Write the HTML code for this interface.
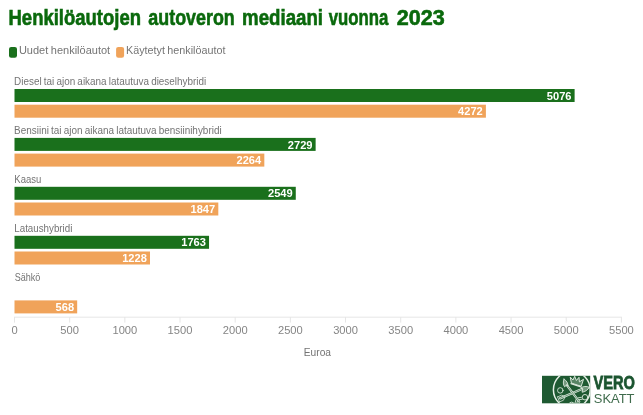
<!DOCTYPE html>
<html lang="fi"><head><meta charset="utf-8"><title>Henkilöautojen autoveron mediaani vuonna 2023</title>
<style>
html,body{margin:0;padding:0;background:#fff;}
body{width:643px;height:415px;overflow:hidden;font-family:"Liberation Sans",sans-serif;}
svg{display:block;}
.t{font-family:"Liberation Sans",sans-serif;}
</style></head><body>
<svg width="643" height="415" viewBox="0 0 643 415">
<rect width="643" height="415" fill="#fff"/>
<text class="t" transform="translate(8.49 25.0) scale(0.841 1)" font-size="22" font-weight="bold" fill="#0a690c" stroke="#0a690c" stroke-width="0.6">Henkilöautojen</text>
<text class="t" transform="translate(148.34 25.0) scale(0.813 1)" font-size="22" font-weight="bold" fill="#0a690c" stroke="#0a690c" stroke-width="0.6">autoveron</text>
<text class="t" transform="translate(242.08 25.0) scale(0.849 1)" font-size="22" font-weight="bold" fill="#0a690c" stroke="#0a690c" stroke-width="0.6">mediaani</text>
<text class="t" transform="translate(328.75 25.0) scale(0.762 1)" font-size="22" font-weight="bold" fill="#0a690c" stroke="#0a690c" stroke-width="0.6">vuonna</text>
<text class="t" transform="translate(396.82 25.0) scale(0.979 1)" font-size="22" font-weight="bold" fill="#0a690c" stroke="#0a690c" stroke-width="0.6">2023</text>
<rect x="9" y="46.9" width="8" height="10.8" rx="2.2" fill="#1a701c"/>
<text class="t" transform="translate(18.92 53.5) scale(1.002 1)" font-size="11.0" word-spacing="-0.6" fill="#747474">Uudet henkilöautot</text>
<rect x="116.1" y="46.9" width="8" height="10.8" rx="2.2" fill="#f0a35a"/>
<text class="t" transform="translate(126.04 53.5) scale(0.98 1)" font-size="11.0" word-spacing="-0.6" fill="#747474">Käytetyt henkilöautot</text>
<line x1="14.0" y1="317.2" x2="621.9" y2="317.2" stroke="#e6e6e6" stroke-width="1"/>
<line x1="14.50" y1="317" x2="14.50" y2="322.6" stroke="#e6e6e6" stroke-width="1"/>
<text class="t" transform="translate(14.50 333.6) scale(0.955 1)" font-size="11.7" fill="#858585" text-anchor="middle">0</text>
<line x1="69.67" y1="317" x2="69.67" y2="322.6" stroke="#e6e6e6" stroke-width="1"/>
<text class="t" transform="translate(69.67 333.6) scale(0.955 1)" font-size="11.7" fill="#858585" text-anchor="middle">500</text>
<line x1="124.85" y1="317" x2="124.85" y2="322.6" stroke="#e6e6e6" stroke-width="1"/>
<text class="t" transform="translate(124.85 333.6) scale(0.955 1)" font-size="11.7" fill="#858585" text-anchor="middle">1000</text>
<line x1="180.02" y1="317" x2="180.02" y2="322.6" stroke="#e6e6e6" stroke-width="1"/>
<text class="t" transform="translate(180.02 333.6) scale(0.955 1)" font-size="11.7" fill="#858585" text-anchor="middle">1500</text>
<line x1="235.19" y1="317" x2="235.19" y2="322.6" stroke="#e6e6e6" stroke-width="1"/>
<text class="t" transform="translate(235.19 333.6) scale(0.955 1)" font-size="11.7" fill="#858585" text-anchor="middle">2000</text>
<line x1="290.36" y1="317" x2="290.36" y2="322.6" stroke="#e6e6e6" stroke-width="1"/>
<text class="t" transform="translate(290.36 333.6) scale(0.955 1)" font-size="11.7" fill="#858585" text-anchor="middle">2500</text>
<line x1="345.54" y1="317" x2="345.54" y2="322.6" stroke="#e6e6e6" stroke-width="1"/>
<text class="t" transform="translate(345.54 333.6) scale(0.955 1)" font-size="11.7" fill="#858585" text-anchor="middle">3000</text>
<line x1="400.71" y1="317" x2="400.71" y2="322.6" stroke="#e6e6e6" stroke-width="1"/>
<text class="t" transform="translate(400.71 333.6) scale(0.955 1)" font-size="11.7" fill="#858585" text-anchor="middle">3500</text>
<line x1="455.88" y1="317" x2="455.88" y2="322.6" stroke="#e6e6e6" stroke-width="1"/>
<text class="t" transform="translate(455.88 333.6) scale(0.955 1)" font-size="11.7" fill="#858585" text-anchor="middle">4000</text>
<line x1="511.05" y1="317" x2="511.05" y2="322.6" stroke="#e6e6e6" stroke-width="1"/>
<text class="t" transform="translate(511.05 333.6) scale(0.955 1)" font-size="11.7" fill="#858585" text-anchor="middle">4500</text>
<line x1="566.23" y1="317" x2="566.23" y2="322.6" stroke="#e6e6e6" stroke-width="1"/>
<text class="t" transform="translate(566.23 333.6) scale(0.955 1)" font-size="11.7" fill="#858585" text-anchor="middle">5000</text>
<line x1="621.40" y1="317" x2="621.40" y2="322.6" stroke="#e6e6e6" stroke-width="1"/>
<text class="t" transform="translate(621.40 333.6) scale(0.955 1)" font-size="11.7" fill="#858585" text-anchor="middle">5500</text>
<text class="t" transform="translate(303.76 355.8) scale(0.956 1)" font-size="10.7" fill="#747474">Euroa</text>
<text class="t" transform="translate(14.08 84.7) scale(0.936 1)" font-size="10.6" word-spacing="-0.6" fill="#747474">Diesel tai ajon aikana latautuva dieselhybridi</text>
<rect x="14.5" y="89.0" width="560.11" height="13.0" fill="#1a701c"/>
<text class="t" x="571.51" y="99.6" font-size="11.1" font-weight="bold" fill="#fff" text-anchor="end">5076</text>
<rect x="14.5" y="104.7" width="471.40" height="13.0" fill="#f0a35a"/>
<text class="t" x="482.80" y="115.3" font-size="11.1" font-weight="bold" fill="#fff" text-anchor="end">4272</text>
<text class="t" transform="translate(14.08 133.7) scale(0.938 1)" font-size="10.6" word-spacing="-0.6" fill="#747474">Bensiini tai ajon aikana latautuva bensiinihybridi</text>
<rect x="14.5" y="137.9" width="301.13" height="13.0" fill="#1a701c"/>
<text class="t" x="312.53" y="148.5" font-size="11.1" font-weight="bold" fill="#fff" text-anchor="end">2729</text>
<rect x="14.5" y="153.6" width="249.82" height="13.0" fill="#f0a35a"/>
<text class="t" x="261.22" y="164.2" font-size="11.1" font-weight="bold" fill="#fff" text-anchor="end">2264</text>
<text class="t" transform="translate(14.31 182.7) scale(0.898 1)" font-size="10.6" word-spacing="-0.6" fill="#747474">Kaasu</text>
<rect x="14.5" y="186.8" width="281.27" height="13.0" fill="#1a701c"/>
<text class="t" x="292.67" y="197.4" font-size="11.1" font-weight="bold" fill="#fff" text-anchor="end">2549</text>
<rect x="14.5" y="202.5" width="203.81" height="13.0" fill="#f0a35a"/>
<text class="t" x="215.21" y="213.1" font-size="11.1" font-weight="bold" fill="#fff" text-anchor="end">1847</text>
<text class="t" transform="translate(14.29 231.7) scale(0.922 1)" font-size="10.6" word-spacing="-0.6" fill="#747474">Lataushybridi</text>
<rect x="14.5" y="235.8" width="194.54" height="13.0" fill="#1a701c"/>
<text class="t" x="205.94" y="246.4" font-size="11.1" font-weight="bold" fill="#fff" text-anchor="end">1763</text>
<rect x="14.5" y="251.5" width="135.50" height="13.0" fill="#f0a35a"/>
<text class="t" x="146.90" y="262.1" font-size="11.1" font-weight="bold" fill="#fff" text-anchor="end">1228</text>
<text class="t" transform="translate(14.67 280.7) scale(0.855 1)" font-size="10.6" word-spacing="-0.6" fill="#747474">Sähkö</text>
<rect x="14.5" y="300.4" width="62.68" height="13.0" fill="#f0a35a"/>
<text class="t" x="74.08" y="311.0" font-size="11.1" font-weight="bold" fill="#fff" text-anchor="end">568</text>
<g id="logo">
<defs><clipPath id="lc"><rect x="542" y="375.8" width="48.2" height="27.5"/></clipPath></defs>
<rect x="542" y="375.8" width="48.2" height="27.5" fill="#1f5a32"/>
<g clip-path="url(#lc)" fill="none" stroke="#dbe8dc" stroke-width="0.9" stroke-linecap="round" stroke-linejoin="round">
<circle cx="571.8" cy="389.8" r="18.4" stroke-width="1.5" stroke="#e6efe6"/>
<circle cx="560.3" cy="390.4" r="2.75" stroke-width="0.9"/>
<circle cx="585" cy="397.2" r="2.75" stroke-width="0.9"/>
<circle cx="571.7" cy="404.9" r="2.75" stroke-width="0.9"/>
<!-- arrow 2: tip right to bottom-left -->
<path d="M582 389 L560 398.4" stroke-width="2.3"/>
<path d="M582 389 L560 398.4" stroke="#1f5a32" stroke-width="0.6"/>
<path d="M589.4 387.2 C586.5 385.9 583 386.3 580.8 388 L582.8 389.4 L582 392.2 C585 392 587.8 390 589.4 387.2 Z" fill="#dbe8dc" fill-opacity="0.45"/>
<path d="M564.6 396.3 L561.4 395.2 L557.6 396.9 M564.9 397.2 L563.4 400.3 L559.4 401.9 M557.6 396.9 L559.4 401.9" stroke-width="0.8"/>
<!-- arrow 1: tip top-left to bottom-right -->
<path d="M567 385.4 L579.2 401.6" stroke-width="2.3"/>
<path d="M567 385.4 L579.2 401.6" stroke="#1f5a32" stroke-width="0.6"/>
<path d="M564 379.2 C566.4 380.4 568.2 383.2 568 386.2 L566.4 385.2 L564.6 386.8 C563 384.6 563 381.6 564 379.2 Z" fill="#dbe8dc" fill-opacity="0.45"/>
<path d="M576 399.6 L575 403 M577.4 401.2 L576.6 404 M578 397.9 L581.4 397.3 M579.3 399.6 L582.4 399.2"/>
<!-- crown -->
<path d="M571.3 382.6 L570.2 377 L573 380 L574.7 376.3 L576.4 380.5 L579 377.3 L579.4 381.9 L583.5 379.3 L581.3 385.9 Z" fill="#dbe8dc" fill-opacity="0.3" stroke-width="1"/>
<path d="M571 383.6 L580.9 386.9" stroke-width="1.3"/>
</g>
<text class="t" transform="translate(593.6 389.3) scale(0.777 1)" font-size="18.8" font-weight="bold" fill="#1c5530" stroke="#1c5530" stroke-width="0.8">VERO</text>
<text class="t" transform="translate(593.81 402.8) scale(0.945 1)" font-size="13.7" fill="#3f6b4c">SKATT</text>
</g>
</svg>
</body></html>
